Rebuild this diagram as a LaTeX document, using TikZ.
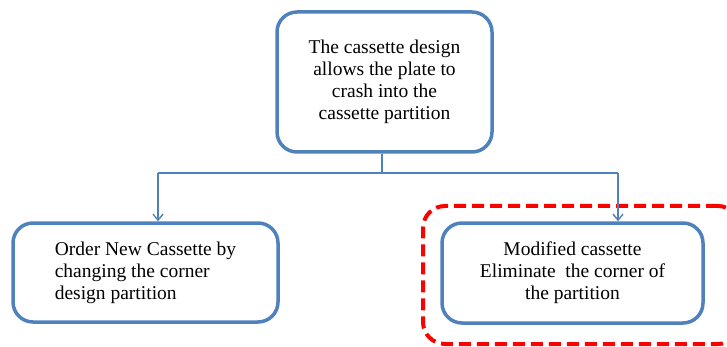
\documentclass[tikz,border=0pt]{standalone}
\usepackage{fontspec}
\setmainfont{Liberation Serif}
\usetikzlibrary{arrows.meta}
\definecolor{boxblue}{RGB}{79,129,189}
\definecolor{hlred}{RGB}{255,0,0}
\begin{document}
\begin{tikzpicture}[x=1pt,y=-1pt,
  stepbox/.style={draw=boxblue, line width=3.5pt, rounded corners=20pt, fill=white,
    inner sep=0pt, font=\fontsize{19.5}{22}\selectfont, text=black},
  conn/.style={draw=boxblue, line width=1.4pt},
  arr/.style={conn, -{Straight Barb[length=6pt,width=10pt,line width=1.4pt]}},
  hlbox/.style={draw=hlred, line width=4pt, dash pattern=on 12pt off 6pt, rounded corners=22pt, inner sep=0pt}]
\useasboundingbox (0,0) rectangle (727,347);
% highlight
\node[hlbox, minimum width=317pt, minimum height=138pt] (hl) at (581.5,275) {};
% boxes
\node[stepbox, minimum width=215pt, minimum height=140pt, align=center] (top) at (384.5,82)
  {The cassette design\\allows the plate to\\crash into the\\cassette partition};
\node[stepbox, minimum width=265pt, minimum height=99pt, align=left] (left) at (145.5,272.5)
  {Order New Cassette by\\changing the corner\\design partition};
\node[stepbox, minimum width=261pt, minimum height=100pt, align=center] (right) at (572.5,273)
  {Modified cassette\\Eliminate\ \ the corner of\\the partition};
% connectors
\coordinate (j) at (382,173);
\coordinate (jl) at (158,173);
\coordinate (jr) at (618,173);
\draw[conn] (top.south -| j) -- (j);
\draw[conn] (jl) -- (jr);
\draw[arr] (jl) -- (jl |- left.north);
\draw[arr] (jr) -- (jr |- right.north);
\end{tikzpicture}
\end{document}
